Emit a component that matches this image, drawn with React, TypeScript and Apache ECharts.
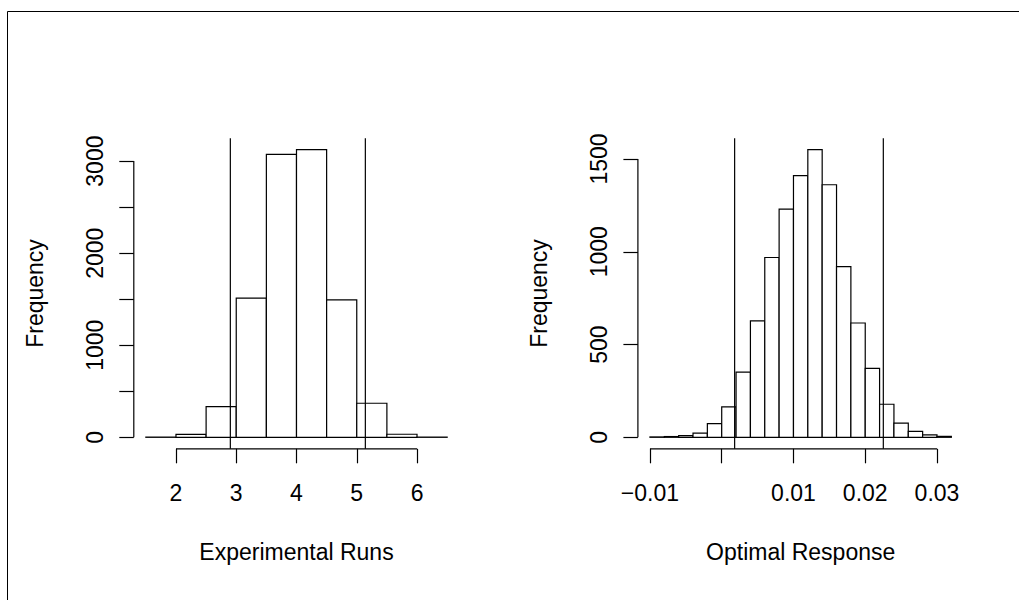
import React, { useEffect, useRef } from 'react';
import * as echarts from 'echarts';

// Left panel: Experimental Runs
const runsBreaks = [1.5, 2, 2.5, 3, 3.5, 4, 4.5, 5, 5.5, 6, 6.5];
const runsCounts = [2, 31, 333, 1512, 3073, 3124, 1493, 370, 33, 2];
const runsLimits = [2.902, 5.1425];
const runsXTicks = [2, 3, 4, 5, 6];
const runsXLabels = [2, 3, 4, 5, 6];
const runsYTicks = [0, 500, 1000, 1500, 2000, 2500, 3000];
const runsYLabels = [0, 1000, 2000, 3000];

// Right panel: Optimal Response
const respBreaks = [
  -0.01, -0.008, -0.006, -0.004, -0.002, 0, 0.002, 0.004, 0.006, 0.008, 0.01,
  0.012, 0.014, 0.016, 0.018, 0.02, 0.022, 0.024, 0.026, 0.028, 0.03, 0.032,
];
const respCounts = [
  2, 4, 9, 22, 74, 164, 351, 627, 969, 1230, 1410, 1550, 1361, 920, 616, 371,
  178, 76, 32, 13, 5,
];
const respLimits = [0.0018, 0.02252];
const respXTicks = [-0.01, 0, 0.01, 0.02, 0.03];
const respXLabels = [-0.01, 0.01, 0.02, 0.03];
const respYTicks = [0, 500, 1000, 1500];
const respYLabels = [0, 500, 1000, 1500];

const FONT = '"Liberation Sans", Arial, Helvetica, sans-serif';
const FS = 23;
const LW = 1.2;

function segment(idx: number, pts: number[][]) {
  return {
    type: 'line',
    xAxisIndex: idx,
    yAxisIndex: idx,
    data: pts,
    symbol: 'none',
    clip: false,
    silent: true,
    lineStyle: { color: '#000', width: LW },
  };
}

function buildPanel(
  idx: number,
  breaks: number[],
  counts: number[],
  limits: number[],
  xTicks: number[],
  xLabels: number[],
  yTicks: number[],
  yLabels: number[],
  xFmt: (v: number) => string,
  xName: string
) {
  const xr = breaks[breaks.length - 1] - breaks[0];
  const xMin = breaks[0] - 0.04 * xr;
  const xMax = breaks[breaks.length - 1] + 0.04 * xr;
  const yMaxData = Math.max(...counts);
  const yLo = -0.04 * yMaxData;
  const yHi = yMaxData * 1.04;
  const bins = counts.map((c, i) => [breaks[i], breaks[i + 1], c]);
  const textBase = { color: '#000', fontSize: FS, fontFamily: FONT };

  const xAxis = {
    type: 'value',
    gridIndex: idx,
    min: xMin,
    max: xMax,
    axisLine: { show: false, onZero: false },
    splitLine: { show: false },
    axisTick: {
      show: true,
      customValues: xTicks,
      length: 14.5,
      lineStyle: { color: '#000', width: LW },
    },
    axisLabel: {
      customValues: xLabels,
      formatter: (v: number) => xFmt(v),
      margin: 33,
      ...textBase,
    },
    name: xName,
    nameLocation: 'middle',
    nameGap: 92,
    nameTextStyle: { ...textBase },
  };
  const yAxis = {
    type: 'value',
    gridIndex: idx,
    min: yLo,
    max: yHi,
    axisLine: { show: false, onZero: false },
    splitLine: { show: false },
    axisTick: {
      show: true,
      customValues: yTicks,
      length: 14.5,
      lineStyle: { color: '#000', width: LW },
    },
    axisLabel: {
      customValues: yLabels,
      formatter: (v: number) => String(Math.round(v)),
      rotate: 90,
      margin: 27.5,
      ...textBase,
    },
    name: 'Frequency',
    nameLocation: 'middle',
    nameRotate: 90,
    nameGap: 87,
    nameTextStyle: { ...textBase },
  };
  const series: any[] = [
    {
      type: 'custom',
      xAxisIndex: idx,
      yAxisIndex: idx,
      data: bins,
      encode: { x: [0, 1], y: 2 },
      silent: true,
      renderItem: (_params: any, api: any) => {
        const p0 = api.coord([api.value(0), 0]);
        const p1 = api.coord([api.value(1), api.value(2)]);
        return {
          type: 'rect',
          shape: {
            x: p0[0],
            y: p1[1],
            width: p1[0] - p0[0],
            height: p0[1] - p1[1],
          },
          style: { fill: '#fff', stroke: '#000', lineWidth: LW },
        };
      },
    },
    // vertical reference lines
    ...limits.map((v) =>
      segment(idx, [
        [v, yLo],
        [v, yHi],
      ])
    ),
    // x axis line (first to last tick)
    segment(idx, [
      [xTicks[0], yLo],
      [xTicks[xTicks.length - 1], yLo],
    ]),
    // y axis line (first to last tick)
    segment(idx, [
      [xMin, yTicks[0]],
      [xMin, yTicks[yTicks.length - 1]],
    ]),
  ];
  return { xAxis, yAxis, series };
}

export default function App() {
  const ref = useRef<HTMLDivElement>(null);
  useEffect(() => {
    if (!ref.current) return;
    const chart = echarts.init(ref.current, undefined, { renderer: 'svg' });
    const left = buildPanel(
      0,
      runsBreaks,
      runsCounts,
      runsLimits,
      runsXTicks,
      runsXLabels,
      runsYTicks,
      runsYLabels,
      (v) => String(v),
      'Experimental Runs'
    );
    const right = buildPanel(
      1,
      respBreaks,
      respCounts,
      respLimits,
      respXTicks,
      respXLabels,
      respYTicks,
      respYLabels,
      (v) => (v < 0 ? '\u2212' + Math.abs(v).toFixed(2) : v.toFixed(2)),
      'Optimal Response'
    );
    chart.setOption({
      animation: false,
      backgroundColor: '#fff',
      grid: [
        { left: 133.8, top: 138.2, width: 325.4, height: 310.6 },
        { left: 637.9, top: 138.2, width: 325.5, height: 310.6 },
      ],
      xAxis: [left.xAxis, right.xAxis],
      yAxis: [left.yAxis, right.yAxis],
      series: [...left.series, ...right.series],
      graphic: [
        {
          type: 'line',
          shape: { x1: 7.5, y1: 11.5, x2: 7.5, y2: 600 },
          style: { stroke: '#000', lineWidth: 1 },
          silent: true,
        },
        {
          type: 'line',
          shape: { x1: 7.5, y1: 11.5, x2: 1019, y2: 11.5 },
          style: { stroke: '#000', lineWidth: 1 },
          silent: true,
        },
      ],
    });
    return () => chart.dispose();
  }, []);
  return (
    <div
      ref={ref}
      style={{ position: 'fixed', left: 0, top: 0, width: 1019, height: 600 }}
    />
  );
}
